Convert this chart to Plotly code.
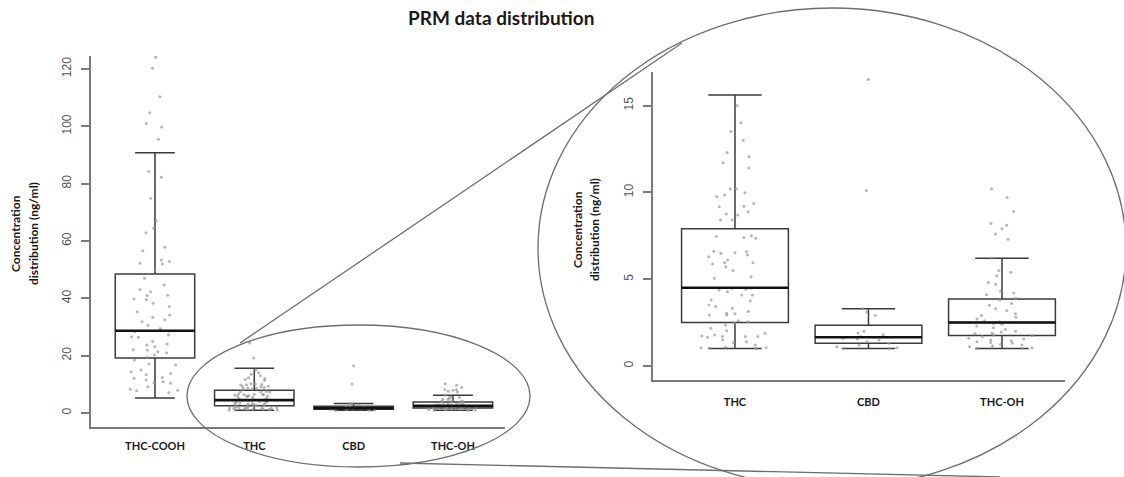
import plotly.graph_objects as go

# ---------------- data ----------------
categories_left = ["THC-COOH", "THC", "CBD", "THC-OH"]
categories_right = ["THC", "CBD", "THC-OH"]

# box statistics (ng/ml)
q1_vals = {"THC-COOH": 19.2, "THC": 2.5, "CBD": 1.3, "THC-OH": 1.75}
median_vals = {"THC-COOH": 28.7, "THC": 4.5, "CBD": 1.65, "THC-OH": 2.5}
q3_vals = {"THC-COOH": 48.5, "THC": 7.9, "CBD": 2.35, "THC-OH": 3.85}
lower_vals = {"THC-COOH": 5.2, "THC": 1.0, "CBD": 1.0, "THC-OH": 1.0}
upper_vals = {"THC-COOH": 90.8, "THC": 15.6, "CBD": 3.3, "THC-OH": 6.2}

# individual samples
thc_cooh_pts = [124.1, 120.2, 110.3, 104.7, 101.0, 99.7, 95.5, 84.2, 82.2, 74.9,
                67.1, 64.4, 62.9, 57.8, 56.6, 53.4, 52.8, 52.2, 52.0, 49.9,
                47.0, 44.6, 43.1, 42.3, 41.1, 41.0, 39.6, 39.8, 38.3, 37.1,
                35.3, 34.2, 33.4, 32.5, 31.8, 30.6, 29.5, 28.5, 28.3, 27.2,
                26.6, 26.4, 24.9, 24.1, 23.7, 23.1, 22.0, 21.4, 21.0, 22.1,
                20.2, 19.4, 18.5, 16.7, 17.1, 15.0, 14.4, 13.8, 13.3, 12.1,
                12.4, 10.9, 10.4, 10.5, 9.2, 8.3, 7.8, 7.9, 7.1, 11.5]
thc_pts = [24.4, 19.2, 15.0, 14.0, 13.5, 13.0, 12.3, 12.05, 11.7, 11.4,
           10.2, 10.2, 9.84, 9.75, 9.98, 9.17, 9.36, 9.2, 8.88, 8.69,
           8.75, 8.4, 8.4, 7.35, 7.4, 7.5, 7.45, 6.49, 6.39, 6.29,
           6.52, 6.6, 6.57, 5.95, 6.1, 5.95, 5.87, 5.72, 5.49, 5.14,
           5.05, 4.47, 4.38, 4.41, 4.28, 4.47, 4.09, 4.09, 3.8, 3.76,
           3.42, 3.32, 3.51, 3.13, 3.03, 2.94, 2.94, 3.0, 2.46, 2.36,
           2.55, 1.69, 1.73, 1.65, 1.88, 1.69, 1.69, 1.78, 2.17, 2.03,
           1.4, 1.34, 1.07, 1.02, 1.05, 1.05, 1.04, 2.6, 1.2, 1.5]
cbd_pts = [16.5, 10.1, 3.3, 3.1, 2.9, 2.0, 1.9, 1.8, 1.7, 1.65, 1.6, 1.55,
           1.5, 1.4, 1.3, 1.2, 1.1, 1.05, 1.0, 1.0]
thc_oh_pts = [10.2, 9.7, 8.9, 8.2, 8.1, 7.9, 7.6, 7.3, 6.2, 5.5, 5.4, 5.2,
              4.8, 4.7, 4.3, 4.2, 4.1, 3.9, 3.8, 3.6, 3.5, 3.3, 3.2, 3.0,
              2.9, 2.8, 2.7, 2.6, 2.55, 2.5, 2.45, 2.4, 2.3, 2.2, 2.1, 2.0,
              1.95, 1.9, 1.85, 1.8, 1.75, 1.7, 1.6, 1.55, 1.5, 1.45, 1.4,
              1.35, 1.3, 1.25, 1.2, 1.15, 1.1, 1.05, 1.0, 1.0]
points = {"THC-COOH": thc_cooh_pts, "THC": thc_pts, "CBD": cbd_pts, "THC-OH": thc_oh_pts}

left_ticks = [0, 20, 40, 60, 80, 100, 120]
right_ticks = [0, 5, 10, 15]

# ---------------- styling ----------------
W, H = 1124, 477
BOXW = 0.8
BOX_LINE = "#3a3a3a"
AXIS_LINE = "#7a7a7a"
PT_COLOR = "rgba(150,150,150,0.7)"
LABEL_FONT = dict(family="Lato", size=11, color="#1a1a1a", weight="bold")
TICK_FONT = dict(family="Liberation Sans", size=12, color="#555555")

fig = go.Figure()


def add_panel(cats, xa, ya):
    pos = list(range(1, len(cats) + 1))
    fig.add_trace(go.Box(
        x=pos,
        q1=[q1_vals[c] for c in cats],
        median=[median_vals[c] for c in cats],
        q3=[q3_vals[c] for c in cats],
        lowerfence=[lower_vals[c] for c in cats],
        upperfence=[upper_vals[c] for c in cats],
        width=BOXW, whiskerwidth=0.5, boxpoints=False,
        fillcolor="white", line=dict(color=BOX_LINE, width=1.5),
        xaxis=xa, yaxis=ya, showlegend=False, hoverinfo="skip"))
    # thick median line
    mx, my = [], []
    for p, c in zip(pos, cats):
        mx += [p - BOXW / 2, p + BOXW / 2, None]
        my += [median_vals[c], median_vals[c], None]
    fig.add_trace(go.Scatter(x=mx, y=my, mode="lines",
                             line=dict(color="#111111", width=2.6),
                             xaxis=xa, yaxis=ya, showlegend=False, hoverinfo="skip"))
    # jittered samples
    for p, c in zip(pos, cats):
        vals = points[c]
        fig.add_trace(go.Box(
            x=[p] * len(vals), y=vals, width=BOXW,
            boxpoints="all", jitter=0.75, pointpos=0,
            fillcolor="rgba(0,0,0,0)", line=dict(color="rgba(0,0,0,0)", width=0),
            marker=dict(color=PT_COLOR, size=3),
            xaxis=xa, yaxis=ya, showlegend=False, hoverinfo="skip"))


add_panel(categories_left, "x", "y")
add_panel(categories_right, "x2", "y2")

px = lambda v: v / W
py = lambda v: 1 - v / H

axis_common = dict(showgrid=False, zeroline=False, showline=True,
                   linecolor=AXIS_LINE, linewidth=2, fixedrange=True)

fig.update_layout(
    width=W, height=H, margin=dict(l=0, r=0, t=0, b=0),
    paper_bgcolor="white", plot_bgcolor="rgba(0,0,0,0)",
    boxmode="overlay",
    xaxis=dict(domain=[px(91), px(505)], range=[0.356, 4.524],
               tickvals=[1, 2, 3, 4], ticktext=categories_left, ticks="",
               ticklabelstandoff=8, tickfont=LABEL_FONT, anchor="y", **axis_common),
    yaxis=dict(domain=[py(427), py(56)], range=[-4.88, 124.5],
               tickvals=left_ticks, ticks="outside", ticklen=8, tickwidth=1.5,
               tickcolor=AXIS_LINE, tickangle=-90, ticklabelstandoff=5,
               tickfont=TICK_FONT, anchor="x", **axis_common),
    xaxis2=dict(domain=[px(653), px(1065)], range=[0.386, 3.472],
                tickvals=[1, 2, 3], ticktext=categories_right, ticks="",
                ticklabelstandoff=11, tickfont=LABEL_FONT, anchor="y2", **axis_common),
    yaxis2=dict(domain=[py(380), py(72)], range=[-0.81, 16.93],
                tickvals=right_ticks, ticks="outside", ticklen=8, tickwidth=1.5,
                tickcolor=AXIS_LINE, tickangle=-90, ticklabelstandoff=5,
                tickfont=TICK_FONT, anchor="x2", **axis_common),
)

ELL = dict(color="#6e6e6e", width=1.3)
fig.add_shape(type="circle", xref="paper", yref="paper",
              x0=px(187), x1=px(530), y0=py(467), y1=py(325),
              line=ELL, fillcolor="rgba(0,0,0,0)", layer="above")
fig.add_shape(type="circle", xref="paper", yref="paper",
              x0=px(538), x1=px(1126), y0=py(488), y1=py(8),
              line=ELL, fillcolor="rgba(0,0,0,0)", layer="above")
fig.add_shape(type="line", xref="paper", yref="paper",
              x0=px(240), y0=py(343), x1=px(682), y1=py(43), line=ELL, layer="above")
fig.add_shape(type="line", xref="paper", yref="paper",
              x0=px(400), y0=py(463), x1=px(1000), y1=py(477), line=ELL, layer="above")

TITLE_FONT = dict(family="Lato", size=12, color="#1a1a1a", weight="bold")
for xline, text, yc in [(15, "Concentration", 234), (33, "distribution (ng/ml)", 234),
                        (578, "Concentration", 230), (595, "distribution (ng/ml)", 230)]:
    fig.add_annotation(x=px(xline), y=py(yc), xref="paper", yref="paper",
                       text=text, textangle=-90, showarrow=False,
                       font=TITLE_FONT, xanchor="center", yanchor="middle")

fig.add_annotation(x=px(501), y=py(18), xref="paper", yref="paper",
                   text="PRM data distribution", showarrow=False,
                   font=dict(family="Lato", size=19, color="#1a1a1a", weight="bold"),
                   xanchor="center", yanchor="middle")

fig.write_html("out.html")
